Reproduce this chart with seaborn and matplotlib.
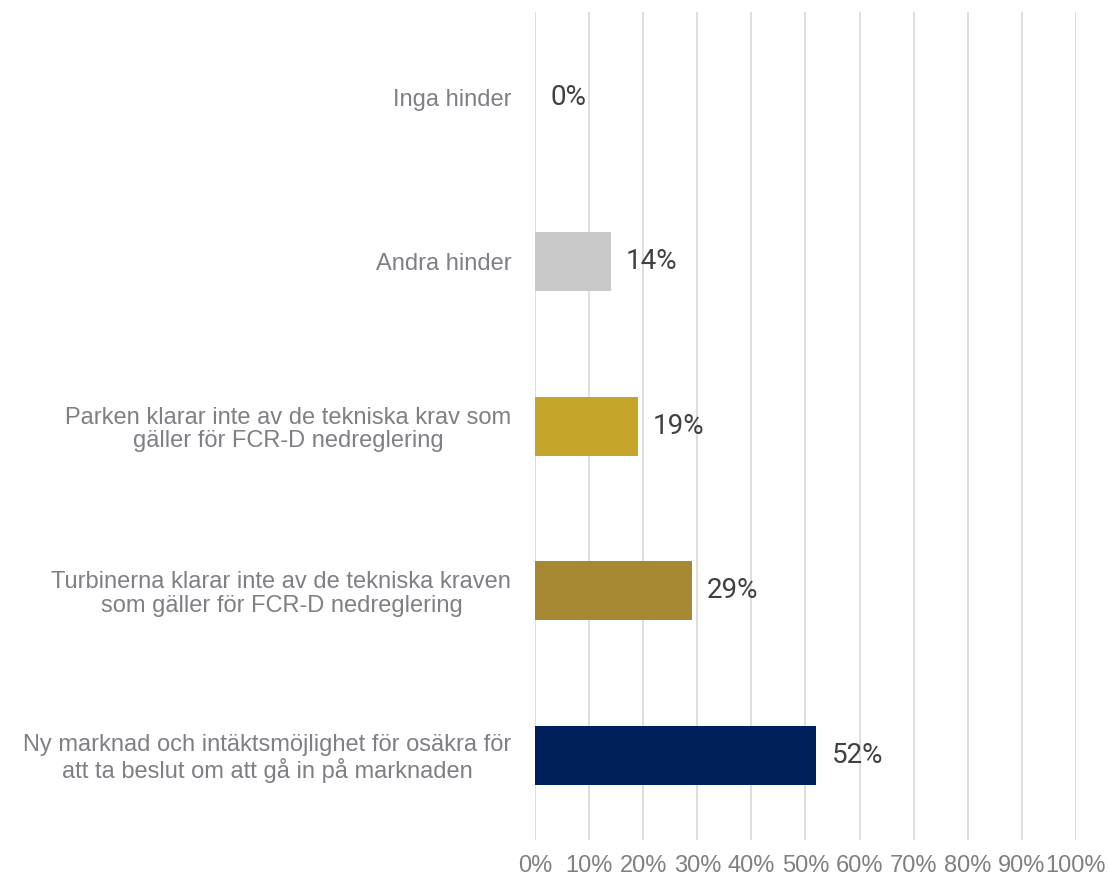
import pandas as pd
import matplotlib.pyplot as plt
import matplotlib.ticker as mticker
import seaborn as sns

categories = [
    'Inga hinder',
    'Andra hinder',
    'Parken klarar inte av de tekniska krav som\ngäller för FCR-D nedreglering',
    'Turbinerna klarar inte av de tekniska kraven\nsom gäller för FCR-D nedreglering',
    'Ny marknad och intäktsmöjlighet för osäkra för\natt ta beslut om att gå in på marknaden',
]
values = [0, 14, 19, 29, 52]
colors = ['#C8C8C8', '#C8C8C8', '#C4A52A', '#A68832', '#00205B']

sns.set_theme(style='white')
plt.rcParams['font.family'] = ['Liberation Sans', 'DejaVu Sans']

df = pd.DataFrame({'cat': categories, 'val': values})

fig = plt.figure(figsize=(11.09, 8.76), dpi=100)
ax = fig.add_axes([0.4824, 0.041, 0.4878, 0.945])

sns.barplot(data=df, y='cat', x='val', hue='cat', palette=colors,
            orient='h', width=0.36, legend=False, ax=ax, saturation=1,
            linewidth=0)

ax.set_xlim(0, 100)
ax.set_ylim(4.515, -0.515)
ax.xaxis.set_major_locator(mticker.MultipleLocator(10))
ax.xaxis.set_major_formatter(mticker.FuncFormatter(lambda v, p: f'{v:.0f}%'))
ax.grid(axis='x', color='#DEDEDE', linewidth=1.4)
ax.set_axisbelow(True)
for s in ax.spines.values():
    s.set_visible(False)
ax.set_xlabel('')
ax.set_ylabel('')
ax.tick_params(axis='x', length=0, pad=11, labelsize=17, labelcolor='#7F7F85')
ax.tick_params(axis='y', length=0, pad=17, labelsize=17, labelcolor='#7F7F85')
for lbl in ax.get_yticklabels():
    lbl.set_multialignment('center')
    lbl.set_linespacing(1.1)

for i, v in enumerate(values):
    ax.annotate(f'{v}%', (v, i), xytext=(11, 0), textcoords='offset points',
                va='center', ha='left', fontsize=20, color='#404040',
                family=['Roboto', 'DejaVu Sans'])

fig.savefig('out.png', dpi=100)
